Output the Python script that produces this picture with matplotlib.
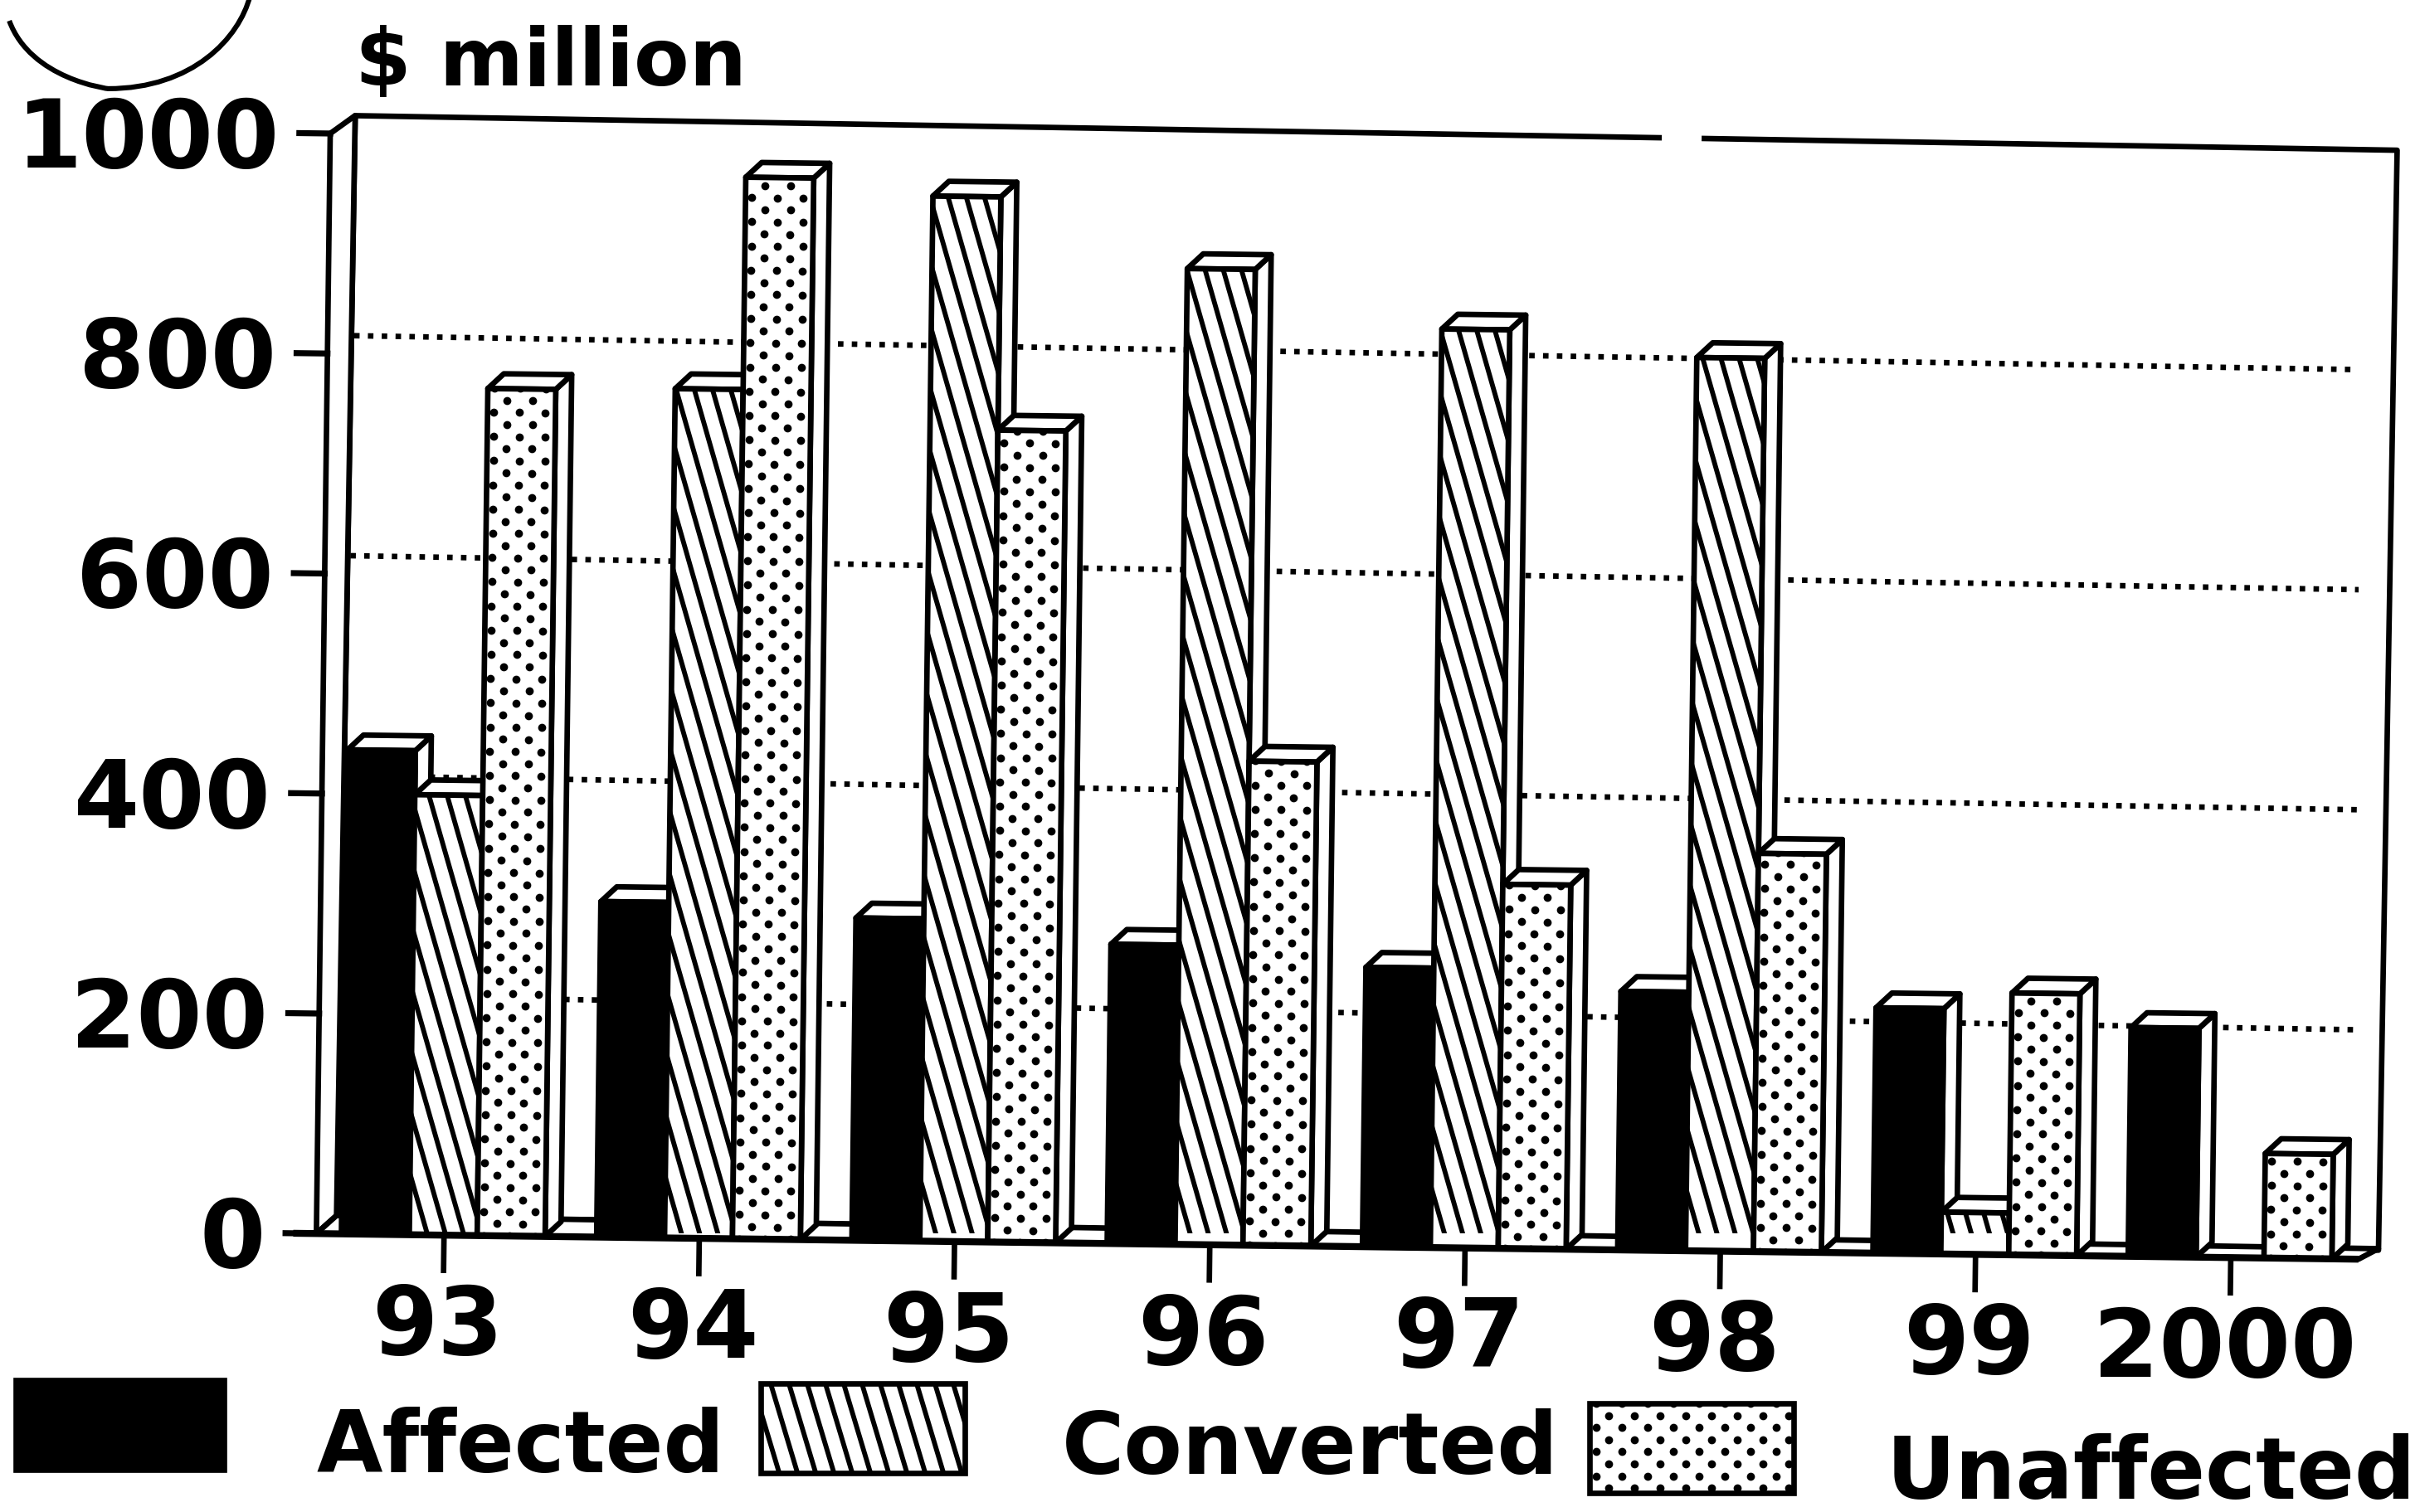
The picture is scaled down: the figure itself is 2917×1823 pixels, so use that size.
import matplotlib
matplotlib.use("Agg")
import numpy as np
import matplotlib.pyplot as plt
from matplotlib.patches import Polygon, Rectangle, PathPatch
from matplotlib.lines import Line2D
from matplotlib.path import Path
from matplotlib.transforms import Affine2D

# data
years = ["93", "94", "95", "96", "97", "98", "99", "2000"]
affected = [440, 305, 293, 272, 254, 235, 223, 208]
converted = [400, 772, 950, 887, 835, 812, 38, 0]
unaffected = [770, 965, 738, 440, 331, 362, 238, 95]
y_ticks = [0, 200, 400, 600, 800, 1000]
legend_names = ["Affected", "Converted", "Unaffected"]

plt.rcParams["font.family"] = "DejaVu Sans"
plt.rcParams["font.weight"] = "bold"

W, H, DPI = 2917, 1824, 200
S = W / 1568  # the positions below were measured on the 1568 wide view
LW = 2.4
FS = 41
FS_SMALL = 37

fig = plt.figure(figsize=(W / DPI, H / DPI), dpi=DPI)

# axes rectangle of the front plane
left, base, cat_w, span = 205 * S, 800 * S, 165.4 * S, 713 * S
ax = fig.add_axes([left / W, (H - base) / H, 8 * cat_w / W, span / H])
ax.set_xlim(0, 8)
ax.set_ylim(0, 1000)
ax.axis("off")

# the page was scanned slightly crooked, and the back wall runs off a little more
tr = ax.transData + Affine2D().rotate_deg_around(left, H - base, -0.72)
tr_back = ax.transData + Affine2D().rotate_deg_around(left, H - base, -0.97)
# view coordinates (y down) to pixels, for things outside the plot
page = Affine2D().scale(S, -S).translate(0, H)

px_x = 8 / (8 * cat_w)   # data x for one pixel
px_y = 1000 / span       # data y for one pixel
dx = 19 * px_x
dy = 18 * px_y
wall_dx = 24 * px_x
wall_dy = 22 * px_y
floor_drop = 9 * px_y
wall_lean = 5.8 * px_x
bar_w = 44 / 165.4
stripe_s = 0.3 * px_x / px_y


def poly(points, face="white", z=1, trans=tr):
    p = Polygon(points, closed=True, facecolor=face, edgecolor="black",
                linewidth=LW, transform=trans, zorder=z, clip_on=False, joinstyle="round")
    ax.add_patch(p)
    return p


def stripes(clip, x0, x1, y0, y1, slope, step, trans, holder, z):
    # slanted lines cut to the shape of the box
    drop = (y1 - y0) * slope
    c = min(x0, x0 - drop)
    end = max(x1, x1 - drop)
    while c < end:
        line = Line2D([c, c + drop], [y0, y1], color="black", linewidth=2.1,
                      transform=trans, zorder=z)
        holder(line)
        line.set_clip_path(clip)
        c += step


def dots(clip, x0, x1, y0, y1, step_x, step_y, trans, holder, z):
    # staggered dot screen cut to the shape of the box
    xs, ys = [], []
    for r, yy in enumerate(np.arange(y0, y1 + step_y, step_y)):
        off = step_x / 2 if r % 2 else 0
        for xx in np.arange(x0 + step_x / 4 + off, x1 + step_x, step_x):
            xs.append(xx)
            ys.append(yy)
    line = Line2D(xs, ys, linestyle="none", marker="o", markersize=3.5, color="black",
                  markeredgewidth=0, transform=trans, zorder=z)
    holder(line)
    line.set_clip_path(clip)


# back wall, side wall and floor
poly([(wall_dx, wall_dy), (8 + wall_dx, wall_dy), (8 + wall_dx, 1000 + wall_dy), (wall_dx, 1000 + wall_dy)],
     z=1, trans=tr_back)
poly([(0, 0), (wall_dx, wall_dy), (wall_dx + wall_lean, 1000 + wall_dy), (0, 1000)], z=1)
poly([(0, 0), (8, 0), (8 + wall_dx, wall_dy - floor_drop), (wall_dx, wall_dy)], z=1)
# small break in the top line
ax.add_line(Line2D([5.215, 5.335], [1000 + wall_dy] * 2, color="white", linewidth=4,
                   transform=tr_back, zorder=1.5, clip_on=False))

for v in y_ticks[1:-1]:
    ax.add_line(Line2D([wall_dx + 0.01, 8 + wall_dx - 0.01], [v + wall_dy] * 2, color="black",
                       linewidth=LW, linestyle=(0, (1, 1.5)), transform=tr_back, zorder=2))

# bars, left to right so each one covers the side of the last
z = 3
for i, name in enumerate(years):
    for j, vals in enumerate([affected, converted, unaffected]):
        v = vals[i]
        x0 = i + 0.497 + (j - 1.5) * bar_w
        x1 = x0 + bar_w
        if v == 0:
            continue
        poly([(x1, 0), (x1 + dx, dy), (x1 + dx, v + dy), (x1, v)], z=z)
        poly([(x0, v), (x1, v), (x1 + dx, v + dy), (x0 + dx, v + dy)], z=z)
        if j == 0:
            poly([(x0, 0), (x1, 0), (x1, v), (x0, v)], face="black", z=z + 0.1)
        elif j == 1:
            f = poly([(x0, 0), (x1, 0), (x1, v), (x0, v)], z=z + 0.1)
            stripes(f, x0, x1, 0, v, -stripe_s, 22 * px_x, tr, ax.add_line, z + 0.2)
        else:
            f = poly([(x0, 0), (x1, 0), (x1, v), (x0, v)], z=z + 0.1)
            dots(f, x0, x1, 0, v, 31 * px_x, 14.6 * px_y, tr, ax.add_line, z + 0.2)
        z += 1

# axis lines, ticks and labels
ax.add_line(Line2D([-15 / 165.4, 8], [0, 0], color="black", linewidth=3, transform=tr,
                   zorder=z, clip_on=False, solid_capstyle="butt"))
for v in y_ticks:
    ax.add_line(Line2D([-20 / 165.4, 0], [v, v], color="black", linewidth=2.6, transform=tr,
                       zorder=z, clip_on=False))
    ax.text(-0.2, v - 7, str(v), ha="right", va="center", fontsize=FS, transform=tr, clip_on=False)
for i, name in enumerate(years):
    ax.add_line(Line2D([i + 0.5, i + 0.5], [0, -32], color="black", linewidth=2.4, transform=tr,
                       zorder=z, clip_on=False))
    ax.text(i + 0.48, -84, name, ha="center", va="center", fontsize=FS, transform=tr, clip_on=False)

# title
fig.text(230 * S / W, (H - 41 * S) / H, "$ million", ha="left", va="center", fontsize=35)

# legend
legend_boxes = [(10, 895, 135, 58), (493, 897, 132, 58), (1030, 910, 132, 58)]
legend_text = [(205, 939), (688, 940), (1222, 956)]
for k, (bx, by, bw, bh) in enumerate(legend_boxes):
    r = Rectangle((bx, by), bw, bh, facecolor="black" if k == 0 else "white", edgecolor="black",
                  linewidth=LW, transform=page)
    fig.add_artist(r)
    if k == 1:
        stripes(r, bx, bx + bw, by, by + bh, 0.3, 22 / S, page, fig.add_artist, 3)
    if k == 2:
        dots(r, bx, bx + bw, by, by + bh, 31 / S, 14.6 / S, page, fig.add_artist, 3)
    fig.text(legend_text[k][0] * S / W, (H - legend_text[k][1] * S) / H, legend_names[k],
             ha="left", va="center", fontsize=FS_SMALL)

# pen mark in the corner
pen = Path([(6, 14), (20, 52), (70, 58), (70, 58), (125, 58), (155, 25), (162, -2)],
           [Path.MOVETO, Path.CURVE4, Path.CURVE4, Path.CURVE4, Path.CURVE4, Path.CURVE4, Path.CURVE4])
fig.add_artist(PathPatch(pen, facecolor="none", edgecolor="black", linewidth=2.2, transform=page))

fig.savefig("out.png", dpi=DPI)
